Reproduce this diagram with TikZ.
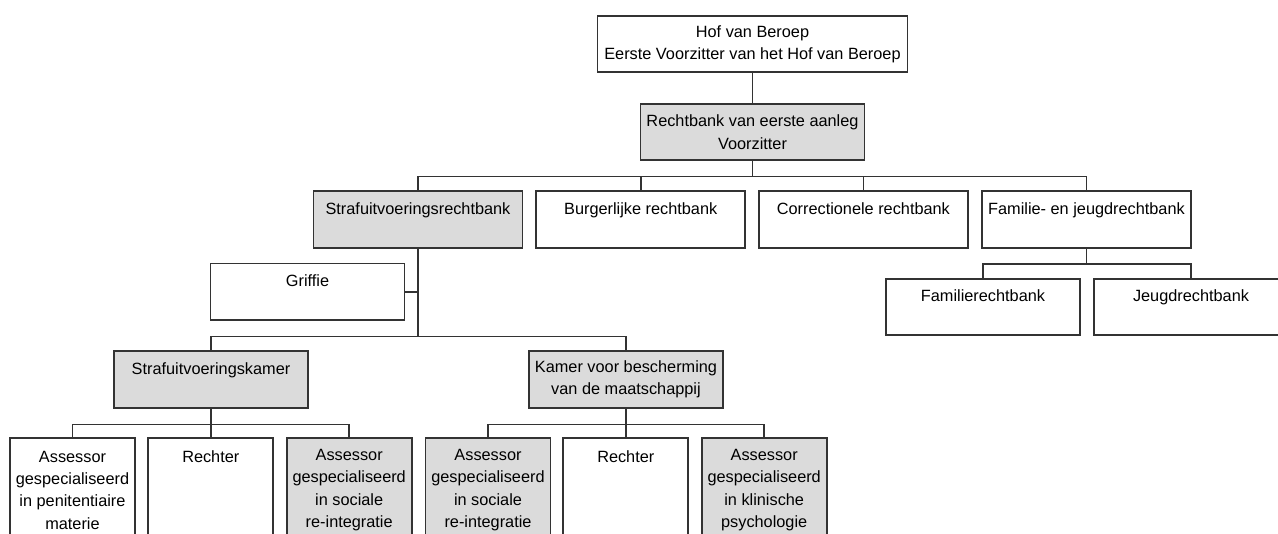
\documentclass[tikz,border=0pt]{standalone}
\usepackage{fontspec}
\setmainfont{Liberation Sans}
\usepackage{xcolor}
\usetikzlibrary{calc}
\usetikzlibrary{positioning}
\definecolor{boxgrey}{HTML}{DBDBDB}
\definecolor{linegrey}{HTML}{333333}

\begin{document}
\begin{tikzpicture}[x=1pt,y=-1pt,
    box/.style={draw=linegrey,line width=1.7pt,fill=white,inner sep=0pt,align=center,anchor=north,minimum height=56.5pt,font=\fontsize{16.3}{22.3}\selectfont},
    greybox/.style={box,fill=boxgrey},
    tall/.style={minimum width=125pt,minimum height=104pt},
    link/.style={draw=linegrey,line width=1.6pt}]

    \useasboundingbox (0,0) rectangle (1278,534);
    \clip (0,0) rectangle (1278,534);

    \node[box,minimum width=310pt] (hof) at (752.5,15) {Hof van Beroep\\Eerste Voorzitter van het Hof van Beroep};
    \node[greybox,minimum width=224pt] (rea) at (752.5,103) {Rechtbank van eerste aanleg\\Voorzitter};

    \node[greybox,minimum width=209pt] (sur) at (418,190.5) {Strafuitvoeringsrechtbank\\~};
    \node[box,minimum width=209pt] (bur) at (640.7,190.5) {Burgerlijke rechtbank\\~};
    \node[box,minimum width=209pt] (cor) at (863.4,190.5) {Correctionele rechtbank\\~};
    \node[box,minimum width=209pt] (fam) at (1086.5,190.5) {Familie- en jeugdrechtbank\\~};

    \node[box,minimum width=194pt] (famr) at (983,278) {Familierechtbank\\~};
    \node[box,minimum width=194pt] (jeug) at (1191,278) {Jeugdrechtbank\\~};

    \node[box,minimum width=194pt] (grif) at (307.5,262.7) {Griffie\\~};

    \node[greybox,minimum width=194pt] (suk) at (211,350.5) {Strafuitvoeringskamer\\~};
    \node[greybox,minimum width=194pt] (kbm) at (626,350.5) {Kamer voor bescherming\\van de maatschappij};

    \node[box,tall] (assp) at (72.5,437.3) {Assessor\\gespecialiseerd\\in penitentiaire\\materie};
    \node[box,tall] (rechta) at (210.8,437.3) {Rechter\\~\\~\\~};
    \node[greybox,tall] (assra) at (349.2,437.3) {Assessor\\gespecialiseerd\\in sociale\\re-integratie};
    \node[greybox,tall] (assrb) at (488,437.3) {Assessor\\gespecialiseerd\\in sociale\\re-integratie};
    \node[box,tall] (rechtb) at (625.8,437.3) {Rechter\\~\\~\\~};
    \node[greybox,tall] (asskp) at (764.2,437.3) {Assessor\\gespecialiseerd\\in klinische\\psychologie};

    \draw[link] (hof.south) -- (rea.north);
    \draw[link] (rea.south) -- ++(0,15.5) -| (sur.north);
    \draw[link] (rea.south) -- ++(0,15.5) -| (bur.north);
    \draw[link] (rea.south) -- ++(0,15.5) -| (cor.north);
    \draw[link] (rea.south) -- ++(0,15.5) -| (fam.north);

    \draw[link] (fam.south) -- ++(0,15.5) -| (famr.north);
    \draw[link] (fam.south) -- ++(0,15.5) -| (jeug.north);

    \draw[link] (grif.east) -- (grif.east -| sur.south);
    \draw[link] (sur.south) -- ++(0,88) -| (suk.north);
    \draw[link] (sur.south) -- ++(0,88) -| (kbm.north);

    \draw[link] (suk.south) -- ++(0,15.7) -| (assp.north);
    \draw[link] (suk.south) -- ++(0,15.7) -| (rechta.north);
    \draw[link] (suk.south) -- ++(0,15.7) -| (assra.north);
    \draw[link] (kbm.south) -- ++(0,15.7) -| (assrb.north);
    \draw[link] (kbm.south) -- ++(0,15.7) -| (rechtb.north);
    \draw[link] (kbm.south) -- ++(0,15.7) -| (asskp.north);

\end{tikzpicture}
\end{document}
